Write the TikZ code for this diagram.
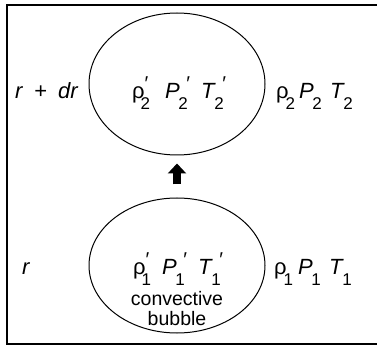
\documentclass[tikz,border=0pt]{standalone}
\usepackage{fontspec}
\setmainfont{Liberation Sans}
\usepackage{tikz}
\usetikzlibrary{arrows.meta, shapes.geometric}

% quantity with subscript and prime: #3 = kern before subscript, #4 = prime offset
\newcommand{\subsz}{\fontsize{17}{17}\selectfont}
\newcommand{\primesz}{\fontsize{20}{20}\selectfont}
\newcommand{\qp}[4]{#1\kern#3\rlap{\raisebox{-11pt}{\subsz#2}}\kern#4\raisebox{8pt}{\primesz′}}
\newcommand{\qs}[3]{#1\kern#3\raisebox{-11pt}{\subsz#2}}

\begin{document}
\begin{tikzpicture}[
    x=1pt, y=-1pt,
    bubble/.style={ellipse, draw=black, line width=1pt, inner sep=0pt},
    txt/.style={anchor=base west, inner sep=0pt, font=\fontsize{22}{24}\selectfont},
    lift/.style={-{Triangle[width=18pt,length=10pt]}, line width=8pt}
]
\useasboundingbox (0,0) rectangle (377,347);
\draw[line width=1.4pt] (7,5) rectangle (400,344);

\node[bubble, minimum width=176pt, minimum height=142pt] (upper) at (177,84) {};
\node[bubble, minimum width=176pt, minimum height=135pt] (lower) at (177,265.5) {};
\draw[lift, shorten <=13pt, shorten >=8pt] (lower.north) -- (upper.south);

% level r + dr
\node[txt] (lvl2) at (15,99) {\textit{r}\hspace{0.5em}+\hspace{0.5em}\textit{dr}};
\node[txt] (rin2) at (132,99) {\qp{ρ}{2}{-4pt}{4pt}};
\node[txt] (pin2) at (165,99) {\qp{\textit{P}}{2}{-1.5pt}{8pt}};
\node[txt] (tin2) at (201,99) {\qp{\textit{T}}{2}{-1.5pt}{8pt}};
\node[txt] (rout2) at (276,99) {\qs{ρ}{2}{-3pt}};
\node[txt] (pout2) at (299,99) {\qs{\textit{P}}{2}{-1.5pt}};
\node[txt] (tout2) at (330,99) {\qs{\textit{T}}{2}{-1.5pt}};

% level r
\node[txt] (lvl1) at (22,274) {\textit{r}};
\node[txt] (rin1) at (133,274) {\qp{ρ}{1}{-4pt}{4pt}};
\node[txt] (pin1) at (162,274) {\qp{\textit{P}}{1}{-1.5pt}{8pt}};
\node[txt] (tin1) at (198,274) {\qp{\textit{T}}{1}{-1.5pt}{8pt}};
\node[txt] (rout1) at (274,274) {\qs{ρ}{1}{-3pt}};
\node[txt] (pout1) at (298,274) {\qs{\textit{P}}{1}{-1.5pt}};
\node[txt] (tout1) at (329,274) {\qs{\textit{T}}{1}{-1.5pt}};

\node[font=\fontsize{19.5}{20}\selectfont, align=center, inner sep=0pt, anchor=base] (lbl) at (177,325) {convective\\bubble};
\end{tikzpicture}
\end{document}
